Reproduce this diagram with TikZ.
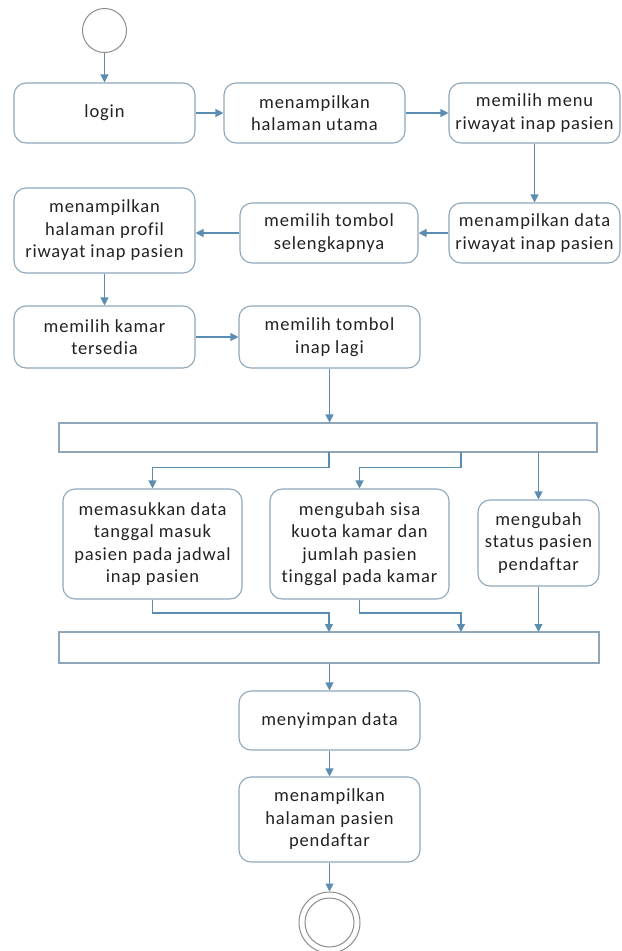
\documentclass[tikz,border=0pt]{standalone}
\usepackage{fontspec}
\setmainfont{Carlito}[LetterSpace=4.5, Ligatures={NoCommon,NoDiscretionary,NoRare}]
\usetikzlibrary{arrows.meta}
\definecolor{boxline}{HTML}{8EA6B8}
\definecolor{flowline}{HTML}{5B8DB2}
\definecolor{txt}{HTML}{222222}
\definecolor{startline}{HTML}{8C8C8C}
\tikzset{
  act/.style={draw=boxline, line width=1.1bp, rounded corners=12bp, align=center,
    text=txt, font=\fontsize{18.5bp}{22.5bp}\selectfont, inner sep=0pt},
  bar/.style={draw=boxline, line width=1.1bp, inner sep=0pt},
  flow/.style={draw=flowline, line width=1.1bp, -{Triangle[width=8bp,length=8bp]}},
}
\begin{document}
\begin{tikzpicture}[x=1bp,y=-1bp]
\useasboundingbox (0,0) rectangle (622,951);

% initial node
\node[draw=startline, line width=1bp, circle, minimum size=44bp, inner sep=0pt] (start) at (104.5,30.5) {};

% first row
\node[act, minimum width=181bp, minimum height=60bp] (login) at (104.5,113) {login};
\node[act, minimum width=181bp, minimum height=60bp] (utama) at (314.5,113) {menampilkan\\halaman utama};
\node[act, minimum width=171bp, minimum height=60bp] (menu) at (534.5,113) {memilih menu\\riwayat inap pasien};

% second row
\node[act, minimum width=171bp, minimum height=60bp] (data) at (534.5,233) {menampilkan data\\riwayat inap pasien};
\node[act, minimum width=178bp, minimum height=60bp] (sel) at (329,233) {memilih tombol\\selengkapnya};
\node[act, minimum width=181bp, minimum height=85bp] (profil) at (104.5,230.5) {menampilkan\\halaman profil\\riwayat inap pasien};

% third row
\node[act, minimum width=181bp, minimum height=62bp] (kamar) at (104.5,337) {memilih kamar\\tersedia};
\node[act, minimum width=181bp, minimum height=62bp] (lagi) at (329.5,337) {memilih tombol\\inap lagi};

% fork bar
\node[bar, minimum width=538bp, minimum height=29bp] (fork) at (328,437.5) {};

% parallel actions
\node[act, minimum width=179bp, minimum height=110bp] (masuk) at (152.5,544) {memasukkan data\\tanggal masuk\\pasien pada jadwal\\inap pasien};
\node[act, minimum width=179bp, minimum height=110bp] (kuota) at (359.5,544) {mengubah sisa\\kuota kamar dan\\jumlah pasien\\tinggal pada kamar};
\node[act, minimum width=121bp, minimum height=86bp] (status) at (538.5,543) {mengubah\\status pasien\\pendaftar};

% join bar
\node[bar, minimum width=540bp, minimum height=31bp] (join) at (329,647.5) {};

% closing actions
\node[act, minimum width=181bp, minimum height=59bp] (simpan) at (329.5,720.5) {menyimpan data};
\node[act, minimum width=181bp, minimum height=85bp] (hal) at (329.5,819.5) {menampilkan\\halaman pasien\\pendaftar};

% final node
\node[draw=startline, line width=1bp, circle, minimum size=61bp, inner sep=0pt] (end) at (329.5,922.5) {};
\node[draw=startline, line width=1bp, circle, minimum size=49bp, inner sep=0pt] (endin) at (end.center) {};

% routing points on the bars
\coordinate (f1) at (329,452);
\coordinate (f2) at (461,452);
\coordinate (f3) at (538.5,452);
\coordinate (j1) at (329,632);
\coordinate (j2) at (461,632);
\coordinate (j3) at (538.5,632);

% sequential flow
\draw[flow] (start) -- (login);
\draw[flow] (login) -- (utama);
\draw[flow] (utama) -- (menu);
\draw[flow] (menu) -- (data);
\draw[flow] (data) -- (sel);
\draw[flow] (sel.west) -- (sel.west -| profil.east);
\draw[flow] (profil) -- (kamar);
\draw[flow] (kamar) -- (lagi);
\draw[flow] (lagi.south) -- (lagi.south |- fork.north);

% fork branches
\draw[flow] (f1) |- ([yshift=21bp]masuk.north) -- (masuk.north);
\draw[flow] (f2) |- ([yshift=21bp]kuota.north) -- (kuota.north);
\draw[flow] (f3) -- (status.north);

% join branches
\draw[flow] (masuk.south) |- ([yshift=19bp]j1) -- (j1);
\draw[flow] (kuota.south) |- ([yshift=19bp]j2) -- (j2);
\draw[flow] (status.south) -- (j3);

% closing flow
\draw[flow] (join.south -| simpan.north) -- (simpan.north);
\draw[flow] (simpan) -- (hal);
\draw[flow] (hal) -- (end);
\end{tikzpicture}
\end{document}
